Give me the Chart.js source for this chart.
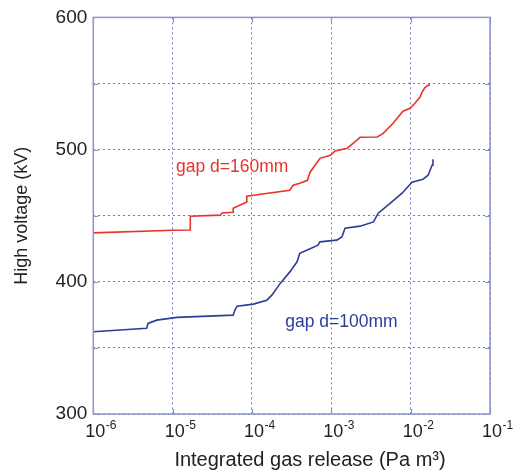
<!DOCTYPE html>
<html>
<head>
<meta charset="utf-8">
<script src="https://cdn.jsdelivr.net/npm/chart.js@4"></script>
<style>
  html, body { margin: 0; padding: 0; background: #fff; }
  #wrap { width: 513px; height: 471px; }
</style>
</head>
<body>
<div id="wrap"><canvas id="myChart"></canvas></div>
<script>
// gas release (Pa m3) vs voltage (kV)
const gap160X = [1e-6, 1e-5, 1.67e-5, 1.67e-5, 4.0e-5, 4.2e-5, 5.8e-5, 5.8e-5, 8.6e-5, 8.6e-5, 1.04e-4, 3.0e-4, 3.3e-4, 4.0e-4, 5.0e-4, 5.4e-4, 7.2e-4, 9.7e-4, 1.12e-3, 1.58e-3, 2.1e-3, 2.3e-3, 3.8e-3, 4.5e-3, 6.0e-3, 8.0e-3, 9.8e-3, 1.13e-2, 1.31e-2, 1.39e-2, 1.52e-2, 1.75e-2];
const gap160Y = [437.0, 439.0, 439.2, 449.6, 450.4, 452.1, 452.6, 455.6, 460.4, 464.7, 465.5, 469.3, 473.0, 474.6, 476.8, 482.9, 493.4, 495.7, 499.0, 501.0, 507.1, 509.3, 509.5, 512.3, 519.9, 529.0, 531.2, 535.0, 539.5, 543.3, 547.1, 549.4];

const gap100X = [1e-6, 4.7e-6, 4.9e-6, 6.3e-6, 1.13e-5, 5.8e-5, 6.1e-5, 6.5e-5, 1.04e-4, 1.54e-4, 1.78e-4, 2.27e-4, 3.0e-4, 3.7e-4, 4.0e-4, 4.9e-4, 6.8e-4, 7.2e-4, 1.17e-3, 1.36e-3, 1.49e-3, 2.3e-3, 3.4e-3, 3.9e-3, 5.5e-3, 7.8e-3, 1.04e-2, 1.43e-2, 1.66e-2, 1.86e-2, 1.91e-2];
const gap100Y = [362.2, 364.8, 368.5, 371.0, 373.1, 374.8, 378.6, 381.6, 383.1, 386.1, 389.9, 398.8, 407.5, 415.1, 421.5, 423.9, 427.7, 430.2, 431.5, 434.0, 440.6, 442.1, 445.3, 451.9, 459.4, 467.0, 475.3, 477.6, 480.6, 488.2, 492.7];

const xDecades = [-6, -5, -4, -3, -2, -1];
const yTicks = [300, 350, 400, 450, 500, 550, 600];
const xTitle = 'Integrated gas release (Pa m\u00b3)';

const labels = [
    { text: 'gap d=160mm', x: 1.1e-5, y: 487, color: '#e8322a' },
    { text: 'gap d=100mm', x: 2.62e-4, y: 369.5, color: '#2e3d96' }
];

const FONT = "'Liberation Sans', Arial, sans-serif";
const BOX = '#8b93c9';
const GRID = '#6f79c2';

const toPts = (xs, ys) => xs.map((x, i) => ({ x: x, y: ys[i] }));

// box, inward ticks, x labels (10^n), x title and the gap labels
const extras = {
    id: 'extras',
    afterDraw(chart) {
        const { ctx, chartArea: a, scales } = chart;
        const xs = scales.x, ys = scales.y;
        ctx.save();
        ctx.strokeStyle = BOX;
        ctx.lineWidth = 1.5;
        ctx.strokeRect(a.left, a.top, a.right - a.left, a.bottom - a.top);

        ctx.lineWidth = 1.2;
        ctx.beginPath();
        xDecades.forEach(e => {
            const px = Math.round(xs.getPixelForValue(Math.pow(10, e))) + 0.5;
            ctx.moveTo(px, a.bottom); ctx.lineTo(px, a.bottom - 5);
            ctx.moveTo(px, a.top); ctx.lineTo(px, a.top + 5);
        });
        yTicks.forEach(v => {
            const py = Math.round(ys.getPixelForValue(v)) + 0.5;
            ctx.moveTo(a.left, py); ctx.lineTo(a.left + 5, py);
            ctx.moveTo(a.right, py); ctx.lineTo(a.right - 5, py);
        });
        ctx.stroke();

        ctx.fillStyle = '#222';
        ctx.textAlign = 'left';
        ctx.textBaseline = 'alphabetic';
        xDecades.forEach(e => {
            const px = xs.getPixelForValue(Math.pow(10, e));
            ctx.font = '18px ' + FONT;
            const w = ctx.measureText('10').width;
            const x0 = px - 8;
            ctx.fillText('10', x0, a.bottom + 23);
            ctx.font = '12px ' + FONT;
            ctx.fillText(String(e), x0 + w + 0.5, a.bottom + 15);
        });

        ctx.font = '20px ' + FONT;
        ctx.textAlign = 'center';
        ctx.textBaseline = 'middle';
        ctx.fillText(xTitle, 310, a.bottom + 46);

        ctx.font = '17.5px ' + FONT;
        ctx.textAlign = 'left';
        labels.forEach(l => {
            ctx.fillStyle = l.color;
            ctx.fillText(l.text, xs.getPixelForValue(l.x), ys.getPixelForValue(l.y));
        });
        ctx.restore();
    }
};

const ctx = document.getElementById('myChart');
const myChart = new Chart(ctx, {
    type: 'line',
    data: {
        datasets: [
            {
                label: 'gap d=160mm',
                data: toPts(gap160X, gap160Y),
                borderColor: '#e8322a',
                borderWidth: 1.6,
                pointRadius: 0,
                tension: 0
            },
            {
                label: 'gap d=100mm',
                data: toPts(gap100X, gap100Y),
                borderColor: '#2e3d96',
                borderWidth: 1.6,
                pointRadius: 0,
                tension: 0
            }
        ]
    },
    options: {
        responsive: true,
        maintainAspectRatio: false,
        animation: false,
        layout: { padding: { left: 4, right: 23, top: 17, bottom: 57 } },
        plugins: {
            legend: { display: false },
            tooltip: { enabled: false }
        },
        scales: {
            x: {
                type: 'logarithmic',
                min: 1e-6,
                max: 1e-1,
                afterBuildTicks: scale => {
                    scale.ticks = xDecades.map(e => ({ value: Math.pow(10, e) }));
                },
                grid: { color: GRID, lineWidth: 1, drawTicks: false },
                border: { display: false, dash: [2, 3] },
                ticks: { display: false }
            },
            y: {
                min: 300,
                max: 600,
                afterBuildTicks: scale => {
                    scale.ticks = yTicks.map(v => ({ value: v }));
                },
                grid: { color: GRID, lineWidth: 1, drawTicks: false },
                border: { display: false, dash: [2, 3] },
                ticks: {
                    padding: 6,
                    color: '#222',
                    font: { family: FONT, size: 19 },
                    callback: v => (v % 100 === 0 ? v : '')
                },
                title: {
                    display: true,
                    text: 'High voltage (kV)',
                    color: '#222',
                    font: { family: FONT, size: 18 },
                    padding: { top: 7, bottom: 17 }
                }
            }
        }
    },
    plugins: [extras]
});
</script>
</body>
</html>
